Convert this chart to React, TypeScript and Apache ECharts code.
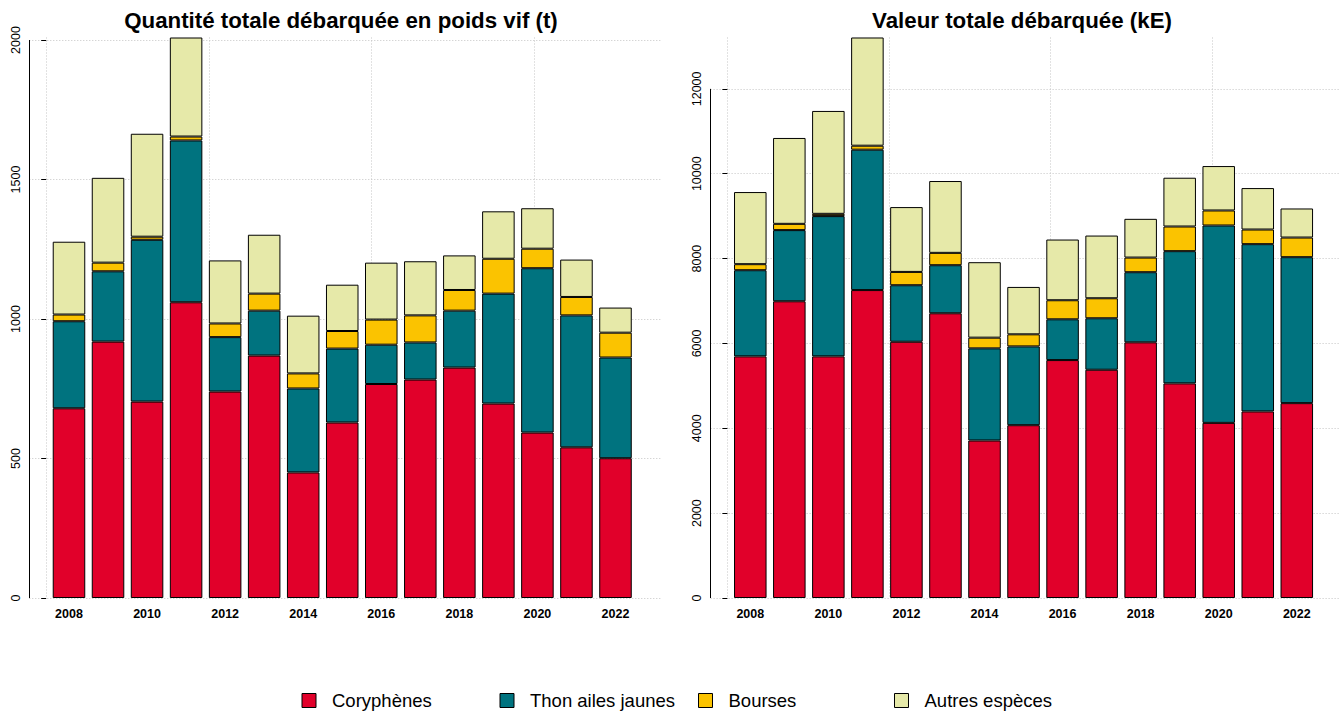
import React, { useEffect, useRef } from 'react';
import * as echarts from 'echarts';

// ---------- data ----------
const years = ['2008', '2009', '2010', '2011', '2012', '2013', '2014', '2015', '2016', '2017', '2018', '2019', '2020', '2021', '2022'];
const speciesNames = ['Coryphènes', 'Thon ailes jaunes', 'Bourses', 'Autres espèces'];
const speciesColors = ['#E1002A', '#00737F', '#FBC300', '#E6E9A9'];

// Quantité totale débarquée en poids vif (t)
const qtyCoryphenes = [680, 919, 704, 1060, 740, 869, 450, 629, 767, 783, 826, 697, 593, 540, 501];
const qtyThon = [312, 252, 580, 580, 195, 161, 301, 265, 141, 133, 204, 394, 589, 473, 361];
const qtyBourses = [24, 31, 11, 14, 49, 61, 54, 63, 90, 97, 74, 125, 70, 66, 89];
const qtyAutres = [261, 304, 369, 355, 226, 211, 207, 166, 204, 194, 124, 170, 145, 134, 90];

// Valeur totale débarquée (kE)
const valCoryphenes = [5695, 6994, 5695, 7258, 6040, 6711, 3712, 4073, 5608, 5380, 6026, 5058, 4128, 4397, 4593];
const valThon = [2031, 1677, 3306, 3309, 1332, 1133, 2172, 1857, 961, 1213, 1653, 3117, 4652, 3943, 3440];
const valBourses = [142, 148, 54, 94, 314, 291, 252, 285, 449, 472, 345, 581, 354, 345, 463];
const valAutres = [1700, 2024, 2425, 2550, 1528, 1693, 1779, 1117, 1431, 1478, 913, 1150, 1047, 977, 685];

const qtyTicks = [0, 500, 1000, 1500, 2000];
const valTicks = [0, 2000, 4000, 6000, 8000, 10000, 12000];
const barAxisGrid = [0, 5, 10, 15];

const titles = ['Quantité totale débarquée en poids vif (t)', 'Valeur totale débarquée (kE)'];

// ---------- layout ----------
const FONT = '"Liberation Sans", Arial, Helvetica, sans-serif';
const UNIT = 32.53; // px per bar unit
const X_MIN = -0.52;
const X_MAX = 18.92;
const BAND_START = 0.1;
const BAND = 1.2;
const PLOT_TOP = 37.5;
const PLOT_H = 560.5;
const PLOT_LEFTS = [29.3, 710.6];
const TITLE_X = [341, 1022];
const LEGEND_LEFTS = [301.5, 499.5, 698, 894];

const gridLine = { type: [1, 2], color: '#C4C4C4', width: 1 };

function buildOption() {
  const charts = [
    { ticks: qtyTicks, series: [qtyCoryphenes, qtyThon, qtyBourses, qtyAutres], stack: 'qty' },
    { ticks: valTicks, series: [valCoryphenes, valThon, valBourses, valAutres], stack: 'val' },
  ];
  const grid: any[] = [];
  const xAxis: any[] = [];
  const yAxis: any[] = [];
  const series: any[] = [];

  charts.forEach((c, ci) => {
    const totals = years.map((_, i) => c.series.reduce((s, arr) => s + arr[i], 0));
    const maxV = Math.max(...totals);
    const pl = PLOT_LEFTS[ci];
    const pw = (X_MAX - X_MIN) * UNIT;
    const bl = pl + (BAND_START - X_MIN) * UNIT;
    const bw = years.length * BAND * UNIT;
    const fIdx = ci * 2;
    const bIdx = ci * 2 + 1;

    grid.push({ left: pl, top: PLOT_TOP, width: pw, height: PLOT_H });
    grid.push({ left: bl, top: PLOT_TOP, width: bw, height: PLOT_H });

    xAxis.push({
      gridIndex: fIdx, type: 'value', min: X_MIN, max: X_MAX,
      axisLine: { show: false },
      axisTick: { show: false, customValues: barAxisGrid },
      axisLabel: { show: false, customValues: barAxisGrid },
      splitLine: { show: true, lineStyle: gridLine },
    });
    xAxis.push({
      gridIndex: bIdx, type: 'category', data: years,
      axisLine: { show: false }, axisTick: { show: false },
      axisLabel: { interval: 1, fontWeight: 'bold', fontSize: 12.5, color: '#000', margin: 9, fontFamily: FONT },
      splitLine: { show: false },
    });
    yAxis.push({
      gridIndex: fIdx, type: 'value', min: 0, max: maxV,
      axisLine: { show: false },
      axisTick: { show: true, length: 5, customValues: c.ticks, lineStyle: { color: '#000', width: 1 } },
      axisLabel: {
        customValues: c.ticks, rotate: 90, fontSize: 12.5, color: '#000', margin: 7, fontFamily: FONT,
        formatter: (v: number) => String(v),
      },
      splitLine: { show: true, lineStyle: gridLine },
    });
    yAxis.push({ gridIndex: bIdx, type: 'value', min: 0, max: maxV, show: false });

    // y axis line (from first to last tick, as in the original)
    series.push({
      type: 'line', xAxisIndex: fIdx, yAxisIndex: fIdx, data: [], silent: true,
      markLine: {
        silent: true, symbol: 'none', label: { show: false },
        lineStyle: { color: '#000', width: 1, type: 'solid' },
        emphasis: { disabled: true },
        data: [[{ coord: [X_MIN, c.ticks[0]] }, { coord: [X_MIN, c.ticks[c.ticks.length - 1]] }]],
      },
    });

    c.series.forEach((arr, si) => {
      series.push({
        name: speciesNames[si], type: 'bar', xAxisIndex: bIdx, yAxisIndex: bIdx, stack: c.stack,
        data: arr, barCategoryGap: '16.67%',
        itemStyle: { color: speciesColors[si], borderColor: '#000', borderWidth: 1 },
        emphasis: { disabled: true },
      });
    });
  });

  const legend = speciesNames.map((n, i) => ({
    data: [n], left: LEGEND_LEFTS[i], top: 691, padding: 0, icon: 'rect',
    itemWidth: 14, itemHeight: 14, selectedMode: false,
    itemStyle: { borderColor: '#000', borderWidth: 1 },
    textStyle: { fontSize: 18.5, color: '#000', fontFamily: FONT, padding: [0, 0, 0, 11] },
  }));

  const graphic = titles.map((t, i) => ({
    type: 'text', x: TITLE_X[i], y: 20,
    style: {
      text: t, fill: '#000', font: `bold 22.3px ${FONT}`,
      align: 'center', verticalAlign: 'middle', textAlign: 'center', textVerticalAlign: 'middle',
    },
  }));

  return {
    animation: false,
    backgroundColor: '#fff',
    textStyle: { fontFamily: FONT },
    grid, xAxis, yAxis, series, legend, graphic,
  };
}

export default function App() {
  const ref = useRef<HTMLDivElement>(null);
  useEffect(() => {
    document.body.style.margin = '0';
    if (!ref.current) return;
    const chart = echarts.init(ref.current, null, { renderer: 'svg' });
    chart.setOption(buildOption() as any);
    return () => chart.dispose();
  }, []);
  return <div ref={ref} style={{ width: 1339, height: 711 }} />;
}
